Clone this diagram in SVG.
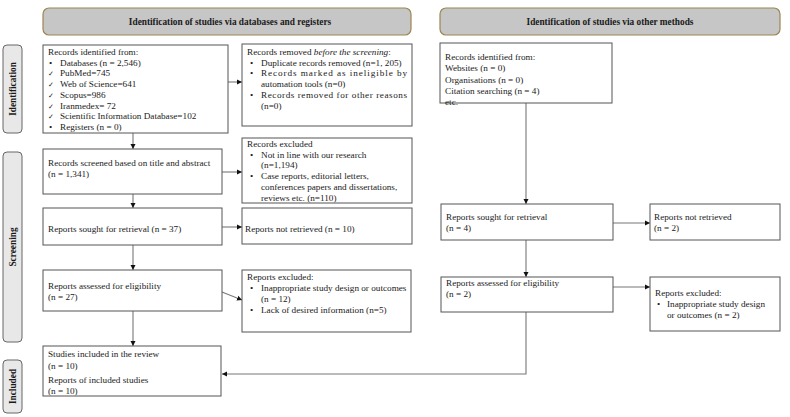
<svg xmlns="http://www.w3.org/2000/svg" width="790" height="417" viewBox="0 0 790 417">
<style>
text{font-family:"Liberation Serif","Times New Roman",serif;font-size:9.2px;fill:#1a1a1a}
.hd{font-weight:bold;font-size:9.3px;text-anchor:middle}
.side{font-weight:bold;font-size:9.3px;text-anchor:middle}
.box{fill:#fff;stroke:#555;stroke-width:1}
.hbox{fill:#c6c6c6;stroke:#9a8650;stroke-width:1.2}
.sbox{fill:#e8e8e8;stroke:#666;stroke-width:1}
.ck{font-family:"DejaVu Sans",sans-serif;font-size:7px}
.c{fill:none;stroke:#777;stroke-width:1.1}
</style>
<defs>
<marker id="ah" markerWidth="6" markerHeight="6" refX="5" refY="3" orient="auto" markerUnits="userSpaceOnUse">
<path d="M0,0.5 L5,3 L0,5.5 Z" fill="#111"/>
</marker>
</defs>
<rect width="790" height="417" fill="#fff"/>

<g id="header-left"><rect class="hbox" x="43" y="8" width="368" height="27" rx="6"/><text class="hd" x="230" y="25">Identification of studies via databases and registers</text></g>
<g id="header-right"><rect class="hbox" x="440" y="8" width="340" height="27" rx="6"/><text class="hd" x="610" y="25">Identification of studies via other methods</text></g>

<g id="side-identification"><rect class="sbox" x="3" y="45" width="19" height="88" rx="4"/><text class="side" transform="translate(15.8,89) rotate(-90)">Identification</text></g>
<g id="side-screening"><rect class="sbox" x="3" y="152" width="19" height="190" rx="4"/><text class="side" transform="translate(15.8,247) rotate(-90)">Screening</text></g>
<g id="side-included"><rect class="sbox" x="3" y="360" width="19" height="53" rx="4"/><text class="side" transform="translate(15.8,386.5) rotate(-90)">Included</text></g>

<g id="connectors">
<line class="c" x1="228" y1="82" x2="242" y2="82" marker-end="url(#ah)"/>
<line class="c" x1="133" y1="133" x2="133" y2="149" marker-end="url(#ah)"/>
<line class="c" x1="222" y1="172" x2="242" y2="172" marker-end="url(#ah)"/>
<line class="c" x1="133" y1="194" x2="133" y2="208" marker-end="url(#ah)"/>
<line class="c" x1="222" y1="227" x2="242" y2="227" marker-end="url(#ah)"/>
<line class="c" x1="133" y1="245" x2="133" y2="270" marker-end="url(#ah)"/>
<line class="c" x1="222" y1="292" x2="242" y2="300" marker-end="url(#ah)"/>
<line class="c" x1="133" y1="311" x2="133" y2="346" marker-end="url(#ah)"/>
<line class="c" x1="526" y1="103" x2="526" y2="204" marker-end="url(#ah)"/>
<line class="c" x1="613" y1="223" x2="650" y2="223" marker-end="url(#ah)"/>
<line class="c" x1="526" y1="240" x2="526" y2="277" marker-end="url(#ah)"/>
<line class="c" x1="613" y1="287" x2="650" y2="287" marker-end="url(#ah)"/>
<polyline class="c" points="526,312 526,374 222,374" marker-end="url(#ah)"/>
</g>

<g id="records-identified">
<rect class="box" x="43" y="45" width="185" height="88"/>
<text x="48" y="55">Records identified from:</text>
<text x="49" y="65.7">•</text><text x="60" y="65.7">Databases (n = 2,546)</text>
<text class="ck" x="48" y="76.4">✓</text><text x="60" y="76.4">PubMed=745</text>
<text class="ck" x="48" y="87.1">✓</text><text x="60" y="87.1">Web of Science=641</text>
<text class="ck" x="48" y="97.8">✓</text><text x="60" y="97.8">Scopus=986</text>
<text class="ck" x="48" y="108.5">✓</text><text x="60" y="108.5">Iranmedex=  72</text>
<text class="ck" x="48" y="119.2">✓</text><text x="60" y="119.2">Scientific Information  Database=102</text>
<text x="49" y="129.9">•</text><text x="60" y="129.9">Registers (n = 0)</text>
</g>

<g id="records-removed">
<rect class="box" x="242" y="44" width="170" height="82"/>
<text x="247" y="55">Records removed <tspan font-style="italic">before the screening</tspan>:</text>
<text x="250" y="65.7">•</text><text x="261" y="65.7">Duplicate records removed (n=1, 205)</text>
<text x="250" y="76.4">•</text><text x="261" y="76.4" textLength="146" lengthAdjust="spacing">Records marked as ineligible by</text>
<text x="261" y="87.1">automation tools (n=0)</text>
<text x="250" y="97.8">•</text><text x="261" y="97.8" textLength="146" lengthAdjust="spacing">Records removed for other reasons</text>
<text x="261" y="108.5">(n=0)</text>
</g>

<g id="records-screened">
<rect class="box" x="43" y="149" width="179" height="45"/>
<text x="48" y="166">Records screened based on title and abstract</text>
<text x="48" y="177">(n = 1,341)</text>
</g>

<g id="records-excluded">
<rect class="box" x="242" y="138" width="170" height="65"/>
<text x="247" y="147">Records excluded</text>
<text x="250" y="157.5">•</text><text x="261" y="157.5">Not in line with our research</text>
<text x="261" y="168">(n=1,194)</text>
<text x="250" y="179">•</text><text x="261" y="179">Case reports, editorial letters,</text>
<text x="261" y="189.5">conferences papers and dissertations,</text>
<text x="261" y="200.5">reviews etc. (n=110)</text>
</g>

<g id="reports-sought">
<rect class="box" x="43" y="208" width="179" height="37"/>
<text x="48" y="232">Reports sought for retrieval  (n = 37)</text>
</g>

<g id="reports-not-retrieved">
<rect class="box" x="242" y="208" width="170" height="36"/>
<text x="245" y="232">Reports not retrieved  (n = 10)</text>
</g>

<g id="reports-assessed">
<rect class="box" x="43" y="270" width="179" height="41"/>
<text x="48" y="289">Reports assessed for eligibility</text>
<text x="48" y="300">(n = 27)</text>
</g>

<g id="reports-excluded">
<rect class="box" x="242" y="270" width="169" height="62"/>
<text x="247" y="280">Reports excluded:</text>
<text x="250" y="291">•</text><text x="261" y="291">Inappropriate study design or outcomes</text>
<text x="261" y="301.5">(n = 12)</text>
<text x="250" y="313">•</text><text x="261" y="313">Lack of desired information (n=5)</text>
</g>

<g id="studies-included">
<rect class="box" x="43" y="346" width="178" height="50"/>
<text x="48" y="357">Studies included in the review</text>
<text x="48" y="369">(n = 10)</text>
<text x="48" y="383">Reports of included studies</text>
<text x="48" y="394">(n = 10)</text>
</g>

<g id="other-identified">
<rect class="box" x="440" y="43" width="172" height="60"/>
<text x="445" y="60">Records identified from:</text>
<text x="445" y="71">Websites (n = 0)</text>
<text x="445" y="82.5">Organisations (n = 0)</text>
<text x="445" y="94">Citation searching (n = 4)</text>
<text x="445" y="105">etc.</text>
</g>

<g id="other-sought">
<rect class="box" x="441" y="204" width="172" height="36"/>
<text x="446" y="220">Reports sought for retrieval</text>
<text x="446" y="231">(n = 4)</text>
</g>

<g id="other-not-retrieved">
<rect class="box" x="650" y="204" width="130" height="36"/>
<text x="654" y="220">Reports not retrieved</text>
<text x="654" y="231">(n = 2)</text>
</g>

<g id="other-assessed">
<rect class="box" x="441" y="277" width="172" height="35"/>
<text x="446" y="286">Reports assessed for eligibility</text>
<text x="446" y="297">(n = 2)</text>
</g>

<g id="other-excluded">
<rect class="box" x="650" y="277" width="130" height="54"/>
<text x="655" y="296">Reports excluded:</text>
<text x="657" y="307">•</text><text x="667" y="307">Inappropriate study design</text>
<text x="667" y="318">or outcomes (n = 2)</text>
</g>
</svg>
